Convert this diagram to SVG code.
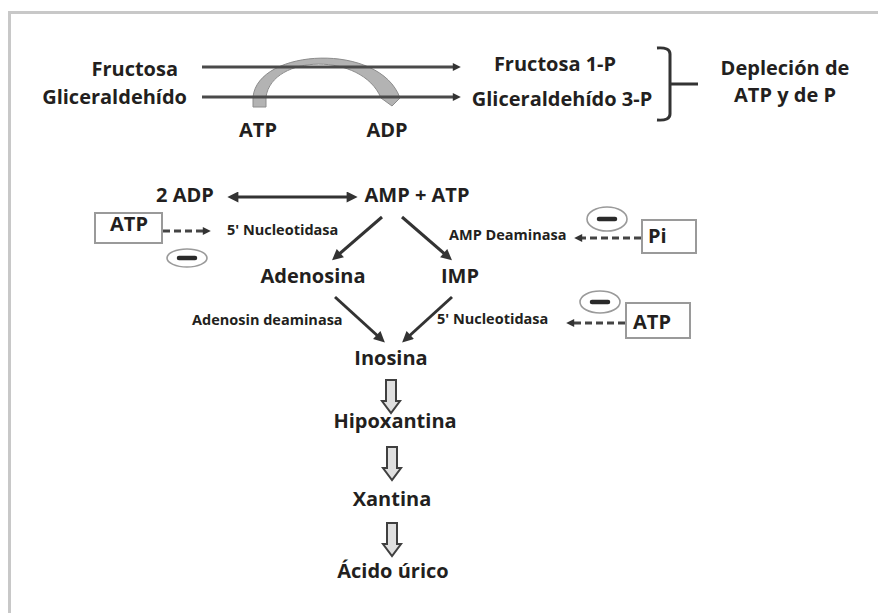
<svg xmlns="http://www.w3.org/2000/svg" width="878" height="613" viewBox="0 0 878 613">
<style>
text{font-family:"Open Sans","Liberation Sans",sans-serif;font-weight:bold;fill:#231f20}
.big{font-size:20px}
.sm{font-size:14.5px}
.mid{text-anchor:middle}
.end{text-anchor:end}
.ln{stroke:#4a4a4a;stroke-width:3;fill:none}
.dg{stroke:#333;stroke-width:3;fill:none}
.dash{stroke:#444;stroke-width:3;fill:none;stroke-dasharray:7 4}
.box{fill:#fff;stroke:#9a9a9a;stroke-width:2}
.ell{fill:#fff;stroke:#9a9a9a;stroke-width:1.6}
.minus{stroke:#2a2a2a;stroke-width:4.5;stroke-linecap:round}
.blk{fill:#e0e0e0;stroke:#404040;stroke-width:2;stroke-linejoin:miter}
</style>
<defs>
<marker id="ah" viewBox="0 0 10 10" refX="4" refY="5" markerWidth="10" markerHeight="8" markerUnits="userSpaceOnUse" orient="auto-start-reverse">
<path d="M0,0 L10,5 L0,10 Z" fill="#333"/>
</marker>
<marker id="ahL" viewBox="0 0 10 10" refX="4" refY="5" markerWidth="12" markerHeight="11" markerUnits="userSpaceOnUse" orient="auto-start-reverse">
<path d="M0,0 L10,5 L0,10 Z" fill="#333"/>
</marker>
<path id="blockArrow" class="blk" d="M-5,0 L5,0 L5,21 L9,21 L0,33 L-9,21 L-5,21 Z"/>
</defs>
<rect width="878" height="613" fill="#fff"/>
<path d="M9.5,613 L9.5,12.5 L878,12.5" fill="none" stroke="#c8c8c8" stroke-width="3"/>

<g id="arc">
<path d="M253,107 L253,97 C258,48 380,42 400,98 L392,106 L381,98 C362,52 272,54 266,97 L266,107 Z" fill="#b3b3b3" stroke="#8c8c8c" stroke-width="1"/>
</g>

<g id="connectors">
<path class="ln" d="M202,67 L456,67" marker-end="url(#ah)"/>
<path class="ln" d="M202,97 L456,97" marker-end="url(#ah)"/>
<path d="M657,48 Q670,47 670,54 L670,114 Q670,121 657,120 M670,84 L698,84" fill="none" stroke="#333" stroke-width="3"/>
<path class="dg" d="M234,197 L351,197" marker-start="url(#ahL)" marker-end="url(#ahL)"/>
<path class="dg" d="M382,217 L337,256" marker-end="url(#ahL)"/>
<path class="dg" d="M402,217 L447,256" marker-end="url(#ahL)"/>
<path class="dg" d="M335,297 L380,338" marker-end="url(#ahL)"/>
<path class="dg" d="M452,297 L407,338" marker-end="url(#ahL)"/>
<path class="dash" d="M163,231 L206,231" marker-end="url(#ah)"/>
<path class="dash" d="M641,238 L579,238" marker-end="url(#ah)"/>
<path class="dash" d="M625,323 L571,323" marker-end="url(#ah)"/>
<use href="#blockArrow" x="391" y="380"/>
<use href="#blockArrow" x="392" y="447"/>
<use href="#blockArrow" x="392" y="523"/>
</g>

<g id="fructosa"><text class="big end" x="178" y="76">Fructosa</text></g>
<g id="gliceraldehido"><text class="big end" x="187" y="104">Gliceraldehído</text></g>
<g id="atp-top"><text class="big mid" x="258" y="137">ATP</text></g>
<g id="adp-top"><text class="big mid" x="387" y="137">ADP</text></g>
<g id="fructosa1p"><text class="big mid" x="555" y="71">Fructosa 1-P</text></g>
<g id="gliceraldehido3p"><text class="big mid" x="562" y="106">Gliceraldehído 3-P</text></g>
<g id="deplecion"><text class="big mid" x="785" y="75">Depleción de</text><text class="big mid" x="785" y="102">ATP y de P</text></g>

<g id="adp2"><text class="big mid" x="185" y="202">2 ADP</text></g>
<g id="ampatp"><text class="big mid" x="417" y="202">AMP + ATP</text></g>

<g id="atp-box-left">
<rect class="box" x="95" y="213" width="67" height="30"/>
<text class="big mid" x="129" y="231">ATP</text>
</g>
<g id="inhib-left"><ellipse class="ell" cx="187" cy="258" rx="20" ry="9"/><line class="minus" x1="179" y1="258" x2="195" y2="258"/></g>
<g id="nucleotidasa-left"><text class="sm" x="227" y="235">5' Nucleotidasa</text></g>

<g id="adenosina"><text class="big mid" x="313" y="283">Adenosina</text></g>
<g id="imp"><text class="big mid" x="460" y="283">IMP</text></g>

<g id="amp-deaminasa"><text class="sm" x="449" y="240">AMP Deaminasa</text></g>
<g id="inhib-pi"><ellipse class="ell" cx="607" cy="219" rx="20" ry="12"/><line class="minus" x1="599" y1="219" x2="615" y2="219"/></g>
<g id="pi-box">
<rect class="box" x="642" y="220" width="54" height="33"/>
<text class="big" x="648" y="243">Pi</text>
</g>

<g id="adenosin-deaminasa"><text class="sm" x="192" y="325">Adenosin deaminasa</text></g>
<g id="nucleotidasa-right"><text class="sm" x="437" y="324">5' Nucleotidasa</text></g>
<g id="inhib-right"><ellipse class="ell" cx="600" cy="302" rx="20" ry="11"/><line class="minus" x1="592" y1="302" x2="608" y2="302"/></g>
<g id="atp-box-right">
<rect class="box" x="626" y="303" width="64" height="35"/>
<text class="big" x="633" y="329">ATP</text>
</g>

<g id="inosina"><text class="big mid" x="391" y="365">Inosina</text></g>
<g id="hipoxantina"><text class="big mid" x="395" y="428">Hipoxantina</text></g>
<g id="xantina"><text class="big mid" x="392" y="506">Xantina</text></g>
<g id="acido-urico"><text class="big mid" x="393" y="578">Ácido úrico</text></g>
</svg>
